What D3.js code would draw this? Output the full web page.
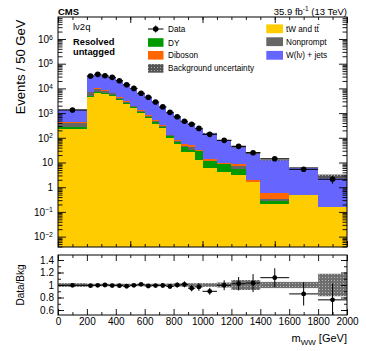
<!DOCTYPE html>
<html>
<head>
<meta charset="utf-8">
<script src="https://cdn.jsdelivr.net/npm/d3@7"></script>
<style>
  body { margin: 0; background: #fff; }
  svg { display: block; }
  text { font-family: "Liberation Sans", Arial, Helvetica, sans-serif; }
</style>
</head>
<body>
<svg id="chart" width="366" height="351"></svg>
<script>
// bin edges in m_WW [GeV]
const massEdges = [0, 200, 250, 300, 350, 400, 450, 500, 550, 600, 650, 700, 750, 800, 850, 900, 950, 1000,
  1100, 1200, 1300, 1400, 1600, 1800, 2000];

// events / 50 GeV, one value per bin
const dataEvents = [1340, 31600, 37000, 32500, 28000, 20500, 14000, 10000, 6400, 4400, 2800, 1780, 1070, 710,
  465, 355, 240, 138, 79, 45, 25, 14.2, 5.3, 2.1];
const dataErr = [18, 178, 192, 180, 167, 143, 118, 100, 80, 66, 53, 42, 33, 27, 22, 19, 15.5, 8.3, 6.3, 4.7,
  3.5, 1.9, 1.15, 0.72];

const ttbar = [220, 4350, 6300, 5900, 4900, 3400, 2350, 1550, 985, 620, 365, 240, 95, 56, 26, 26.6, 12.6, 5.8,
  4.3, 3.1, 1.67, 0.21, 0.48, 0.155];
const dyJets = [46, 650, 700, 600, 450, 350, 250, 180, 130, 90, 70, 45, 25, 14, 16, 5.4, 17, 6, 4.2, 2.2, 0,
  0.065, 0, 0];
const nonprompt = [142, 2200, 2600, 1600, 900, 500, 300, 180, 100, 60, 40, 25, 4, 3, 4, 12, 0, 0, 0, 2.1, 0,
  0.045, 0, 0];
const diboson = [39, 250, 350, 300, 250, 200, 150, 110, 90, 70, 50, 35, 12, 8, 9, 7, 3, 1.7, 0.8, 1.1, 0.3,
  0.29, 0, 0];
const wjets = [900, 24470, 27240, 24100, 21780, 16260, 11240, 8030, 5030, 3630, 2300, 1450, 960, 629, 405, 323,
  215, 140, 70, 35.6, 22.3, 12.1, 5.7, 2.6];

// relative background uncertainty per bin
const bkgRelUnc = [0.03, 0.02, 0.02, 0.02, 0.02, 0.02, 0.02, 0.02, 0.02, 0.02, 0.02, 0.02, 0.025, 0.025, 0.03,
  0.03, 0.03, 0.03, 0.04, 0.08, 0.08, 0.05, 0.05, 0.18];

// tick labels
const yDecades = [-2, -1, 0, 1, 2, 3, 4, 5, 6];
const ratioTicks = [0.6, 0.8, 1, 1.2, 1.4];
const massTicks = [0, 200, 400, 600, 800, 1000, 1200, 1400, 1600, 1800, 2000];

const legendLeft = ['Data', 'DY', 'Diboson', 'Background uncertainty'];
const legendRight = ['tW and tt', 'Nonprompt', 'W(l\u03bd) + jets'];

const svg = d3.select('#chart');
const plot = { left: 58, right: 347, top: 17, bottom: 247 };
const rpad = { top: 255, bottom: 315 };

const x = d3.scaleLinear().domain([0, 2000]).range([plot.left, plot.right]);
const yMin = Math.pow(10, -2.42), yMax = Math.pow(10, 6.89);
const y = d3.scaleLog().domain([yMin, yMax]).range([plot.bottom, plot.top]);
const yr = d3.scaleLinear().domain([0.52, 1.48]).range([rpad.bottom, rpad.top]);

const keys = ['tt', 'dy', 'np', 'vv', 'wj'];
const colors = { tt: '#ffcc00', dy: '#009900', np: '#666666', vv: '#ff6600', wj: '#6666ff' };

const rows = massEdges.slice(0, -1).map((lo, i) => ({
  lo: lo, hi: massEdges[i + 1],
  tt: ttbar[i], dy: dyJets[i], np: nonprompt[i], vv: diboson[i], wj: wjets[i],
  data: dataEvents[i], err: dataErr[i], unc: bkgRelUnc[i]
}));
rows.forEach((r) => { r.total = r.tt + r.dy + r.np + r.vv + r.wj; });

const series = d3.stack().keys(keys)(rows);

// defs: clips + hatch for the uncertainty
const defs = svg.append('defs');
defs.append('clipPath').attr('id', 'clipMain').append('rect')
  .attr('x', plot.left).attr('y', plot.top)
  .attr('width', plot.right - plot.left).attr('height', plot.bottom - plot.top);
defs.append('clipPath').attr('id', 'clipRatio').append('rect')
  .attr('x', plot.left).attr('y', rpad.top)
  .attr('width', plot.right - plot.left).attr('height', rpad.bottom - rpad.top);
const pat = defs.append('pattern').attr('id', 'hatch')
  .attr('width', 3).attr('height', 3).attr('patternUnits', 'userSpaceOnUse');
pat.append('rect').attr('width', 3).attr('height', 3).attr('fill', '#555');
pat.append('rect').attr('x', 1).attr('y', 1).attr('width', 1).attr('height', 1).attr('fill', '#aaa');

// ---- main panel ----
const gMain = svg.append('g').attr('clip-path', 'url(#clipMain)');

gMain.selectAll('g.layer')
  .data(series)
  .enter()
  .append('g')
  .attr('class', 'layer')
  .attr('fill', (d) => colors[d.key])
  .attr('shape-rendering', 'crispEdges')
  .selectAll('rect')
  .data((d) => d.filter((p) => p[1] > p[0]))
  .enter()
  .append('rect')
  .attr('x', (d) => x(d.data.lo))
  .attr('width', (d) => x(d.data.hi) - x(d.data.lo))
  .attr('y', (d) => y(d[1]))
  .attr('height', (d) => y(Math.max(d[0], yMin)) - y(d[1]));

gMain.append('g').selectAll('rect')
  .data(rows)
  .enter()
  .append('rect')
  .attr('x', (d) => x(d.lo))
  .attr('width', (d) => x(d.hi) - x(d.lo))
  .attr('y', (d) => y(d.total * (1 + d.unc)))
  .attr('height', (d) => Math.max(0.8, y(d.total * (1 - d.unc)) - y(d.total * (1 + d.unc))))
  .attr('fill', 'url(#hatch)');

const gData = gMain.append('g').attr('stroke', '#000').attr('stroke-width', 1);
gData.selectAll('line.h').data(rows).enter().append('line')
  .attr('class', 'h')
  .attr('x1', (d) => x(d.lo)).attr('x2', (d) => x(d.hi))
  .attr('y1', (d) => y(d.data)).attr('y2', (d) => y(d.data));
gData.selectAll('line.v').data(rows).enter().append('line')
  .attr('class', 'v')
  .attr('x1', (d) => x((d.lo + d.hi) / 2)).attr('x2', (d) => x((d.lo + d.hi) / 2))
  .attr('y1', (d) => y(d.data - d.err)).attr('y2', (d) => y(d.data + d.err));
gData.selectAll('circle').data(rows).enter().append('circle')
  .attr('cx', (d) => x((d.lo + d.hi) / 2))
  .attr('cy', (d) => y(d.data))
  .attr('r', 2.8)
  .attr('fill', '#000')
  .attr('stroke', 'none');

// ---- ratio panel ----
const gRatio = svg.append('g').attr('clip-path', 'url(#clipRatio)');
gRatio.append('g').selectAll('rect')
  .data(rows)
  .enter()
  .append('rect')
  .attr('x', (d) => x(d.lo))
  .attr('width', (d) => x(d.hi) - x(d.lo))
  .attr('y', (d) => yr(1 + d.unc))
  .attr('height', (d) => yr(1 - d.unc) - yr(1 + d.unc))
  .attr('fill', 'url(#hatch)')
  .attr('opacity', 0.85);

const gRD = gRatio.append('g').attr('stroke', '#000').attr('stroke-width', 1);
gRD.selectAll('line.h').data(rows).enter().append('line')
  .attr('x1', (d) => x(d.lo)).attr('x2', (d) => x(d.hi))
  .attr('y1', (d) => yr(d.data / d.total)).attr('y2', (d) => yr(d.data / d.total));
gRD.selectAll('line.v').data(rows).enter().append('line')
  .attr('x1', (d) => x((d.lo + d.hi) / 2)).attr('x2', (d) => x((d.lo + d.hi) / 2))
  .attr('y1', (d) => yr((d.data - d.err) / d.total)).attr('y2', (d) => yr((d.data + d.err) / d.total));
gRD.selectAll('circle').data(rows).enter().append('circle')
  .attr('cx', (d) => x((d.lo + d.hi) / 2))
  .attr('cy', (d) => yr(d.data / d.total))
  .attr('r', 2.4)
  .attr('fill', '#000')
  .attr('stroke', 'none');

// ---- frames ----
svg.append('rect')
  .attr('x', plot.left).attr('y', plot.top)
  .attr('width', plot.right - plot.left).attr('height', plot.bottom - plot.top)
  .attr('fill', 'none').attr('stroke', '#000');
svg.append('rect')
  .attr('x', plot.left).attr('y', rpad.top)
  .attr('width', plot.right - plot.left).attr('height', rpad.bottom - rpad.top)
  .attr('fill', 'none').attr('stroke', '#000');

// ---- axes ----
function addAxis(axis, tx, ty) {
  const g = svg.append('g').attr('transform', 'translate(' + tx + ',' + ty + ')').call(axis);
  g.select('.domain').remove();
  g.selectAll('.tick line').attr('stroke', '#000').attr('stroke-width', 0.9);
  g.attr('font-family', '"Liberation Sans", Arial, sans-serif').attr('font-size', 10);
  g.selectAll('.tick text').attr('fill', '#000');
  return g;
}

const majorY = yDecades.map((e) => Math.pow(10, e));
const minorY = [];
for (let e = -3; e <= 6; e++) {
  for (let k = 2; k <= 9; k++) {
    const v = k * Math.pow(10, e);
    if (v > yMin && v < yMax) minorY.push(v);
  }
}

const gYL = addAxis(d3.axisLeft(y).tickValues(majorY).tickSize(-8).tickPadding(5), plot.left, 0);
gYL.selectAll('.tick text').each(function (d) {
  const e = Math.round(Math.log10(d));
  const t = d3.select(this).text(e === 0 ? '1' : '10');
  if (e !== 0 && e !== 1) {
    t.append('tspan').attr('dy', '-0.45em').attr('font-size', '7px')
      .text(e < 0 ? '\u2212' + (-e) : String(e));
  }
});
addAxis(d3.axisLeft(y).tickValues(minorY).tickSize(-4.5).tickFormat(''), plot.left, 0);
addAxis(d3.axisRight(y).tickValues(majorY).tickSize(-8).tickFormat(''), plot.right, 0);
addAxis(d3.axisRight(y).tickValues(minorY).tickSize(-4.5).tickFormat(''), plot.right, 0);

const mainMajorX = [0, 500, 1000, 1500, 2000];
const mainMinorX = d3.range(100, 2000, 100);
addAxis(d3.axisBottom(x).tickValues(mainMajorX).tickSize(-6).tickFormat(''), 0, plot.bottom);
addAxis(d3.axisBottom(x).tickValues(mainMinorX).tickSize(-3).tickFormat(''), 0, plot.bottom);
addAxis(d3.axisTop(x).tickValues(mainMajorX).tickSize(-6).tickFormat(''), 0, plot.top);
addAxis(d3.axisTop(x).tickValues(mainMinorX).tickSize(-3).tickFormat(''), 0, plot.top);

const ratioMinor = [0.6, 0.7, 0.8, 0.9, 1.0, 1.1, 1.2, 1.3, 1.4];
addAxis(d3.axisLeft(yr).tickValues(ratioTicks).tickSize(-6).tickPadding(4)
  .tickFormat((d) => (d === 1 ? '1' : d.toFixed(1))), plot.left, 0);
addAxis(d3.axisLeft(yr).tickValues(ratioMinor).tickSize(-3).tickFormat(''), plot.left, 0);
addAxis(d3.axisRight(yr).tickValues(ratioTicks).tickSize(-6).tickFormat(''), plot.right, 0);
addAxis(d3.axisRight(yr).tickValues(ratioMinor).tickSize(-3).tickFormat(''), plot.right, 0);

const ratioMinorX = d3.range(100, 2000, 200);
addAxis(d3.axisBottom(x).tickValues(massTicks).tickSize(-6).tickPadding(3)
  .tickFormat((d) => String(d)), 0, rpad.bottom);
addAxis(d3.axisBottom(x).tickValues(ratioMinorX).tickSize(-3).tickFormat(''), 0, rpad.bottom);
addAxis(d3.axisTop(x).tickValues(massTicks).tickSize(-6).tickFormat(''), 0, rpad.top);
addAxis(d3.axisTop(x).tickValues(ratioMinorX).tickSize(-3).tickFormat(''), 0, rpad.top);

// ---- titles ----
svg.append('text')
  .attr('transform', 'translate(25,67) rotate(-90)')
  .attr('text-anchor', 'middle')
  .attr('font-size', 13)
  .text('Events / 50 GeV');
svg.append('text')
  .attr('transform', 'translate(24,285) rotate(-90)')
  .attr('text-anchor', 'middle')
  .attr('font-size', 10)
  .text('Data/Bkg');

const xt = svg.append('text')
  .attr('x', plot.right).attr('y', 342)
  .attr('text-anchor', 'end')
  .attr('font-size', 11);
xt.append('tspan').text('m');
xt.append('tspan').attr('font-size', 8).attr('dy', 2.5).text('WW');
xt.append('tspan').attr('dy', -2.5).text(' [GeV]');

svg.append('text')
  .attr('x', plot.left).attr('y', 14.5)
  .attr('font-size', 9.5).attr('font-weight', 'bold')
  .text('CMS');
const lumi = svg.append('text')
  .attr('x', plot.right).attr('y', 14.5)
  .attr('text-anchor', 'end')
  .attr('font-size', 9.5);
lumi.append('tspan').text('35.9 fb');
lumi.append('tspan').attr('font-size', 6.5).attr('dy', -4).text('-1');
lumi.append('tspan').attr('dy', 4).text(' (13 TeV)');

svg.append('text').attr('x', 73).attr('y', 30).attr('font-size', 9.5).text('l\u03bd2q');
svg.append('text').attr('x', 73).attr('y', 45).attr('font-size', 9.3).attr('font-weight', 'bold').text('Resolved');
svg.append('text').attr('x', 73).attr('y', 55).attr('font-size', 9.3).attr('font-weight', 'bold').text('untagged');

// ---- legend ----
const legY = [29, 42.5, 55.3, 68.4];
const legFillsLeft = [null, colors.dy, colors.vv, 'url(#hatch)'];
const legL = svg.append('g');
legL.append('line').attr('x1', 148).attr('x2', 163.5).attr('y1', legY[0]).attr('y2', legY[0])
  .attr('stroke', '#000');
legL.append('line').attr('x1', 155.7).attr('x2', 155.7).attr('y1', legY[0] - 3.5).attr('y2', legY[0] + 3.5)
  .attr('stroke', '#000');
legL.append('circle').attr('cx', 155.7).attr('cy', legY[0]).attr('r', 2.8).attr('fill', '#000');
legendLeft.forEach((label, i) => {
  if (legFillsLeft[i]) {
    legL.append('rect').attr('x', 148).attr('y', legY[i] - 4.3).attr('width', 15.5).attr('height', 8.6)
      .attr('fill', legFillsLeft[i]);
  }
  legL.append('text').attr('x', 168).attr('y', legY[i] + 3).attr('font-size', 8.2).text(label);
});

const legYR = [28.8, 41.7, 55.3];
const legFillsRight = [colors.tt, colors.np, colors.wj];
legendRight.forEach((label, i) => {
  svg.append('rect').attr('x', 266.3).attr('y', legYR[i] - 4.4).attr('width', 16.7).attr('height', 8.8)
    .attr('fill', legFillsRight[i]);
  const t = svg.append('text').attr('x', 286).attr('y', legYR[i] + 3).attr('font-size', 8.2).text(label);
  if (i === 0) {
    // bar over the second t of tt
    const bb = t.node().getBBox();
    svg.append('line')
      .attr('x1', bb.x + bb.width - 2.4).attr('x2', bb.x + bb.width + 0.2)
      .attr('y1', legYR[i] - 4.2).attr('y2', legYR[i] - 4.2)
      .attr('stroke', '#000').attr('stroke-width', 0.6);
  }
});
</script>
</body>
</html>
